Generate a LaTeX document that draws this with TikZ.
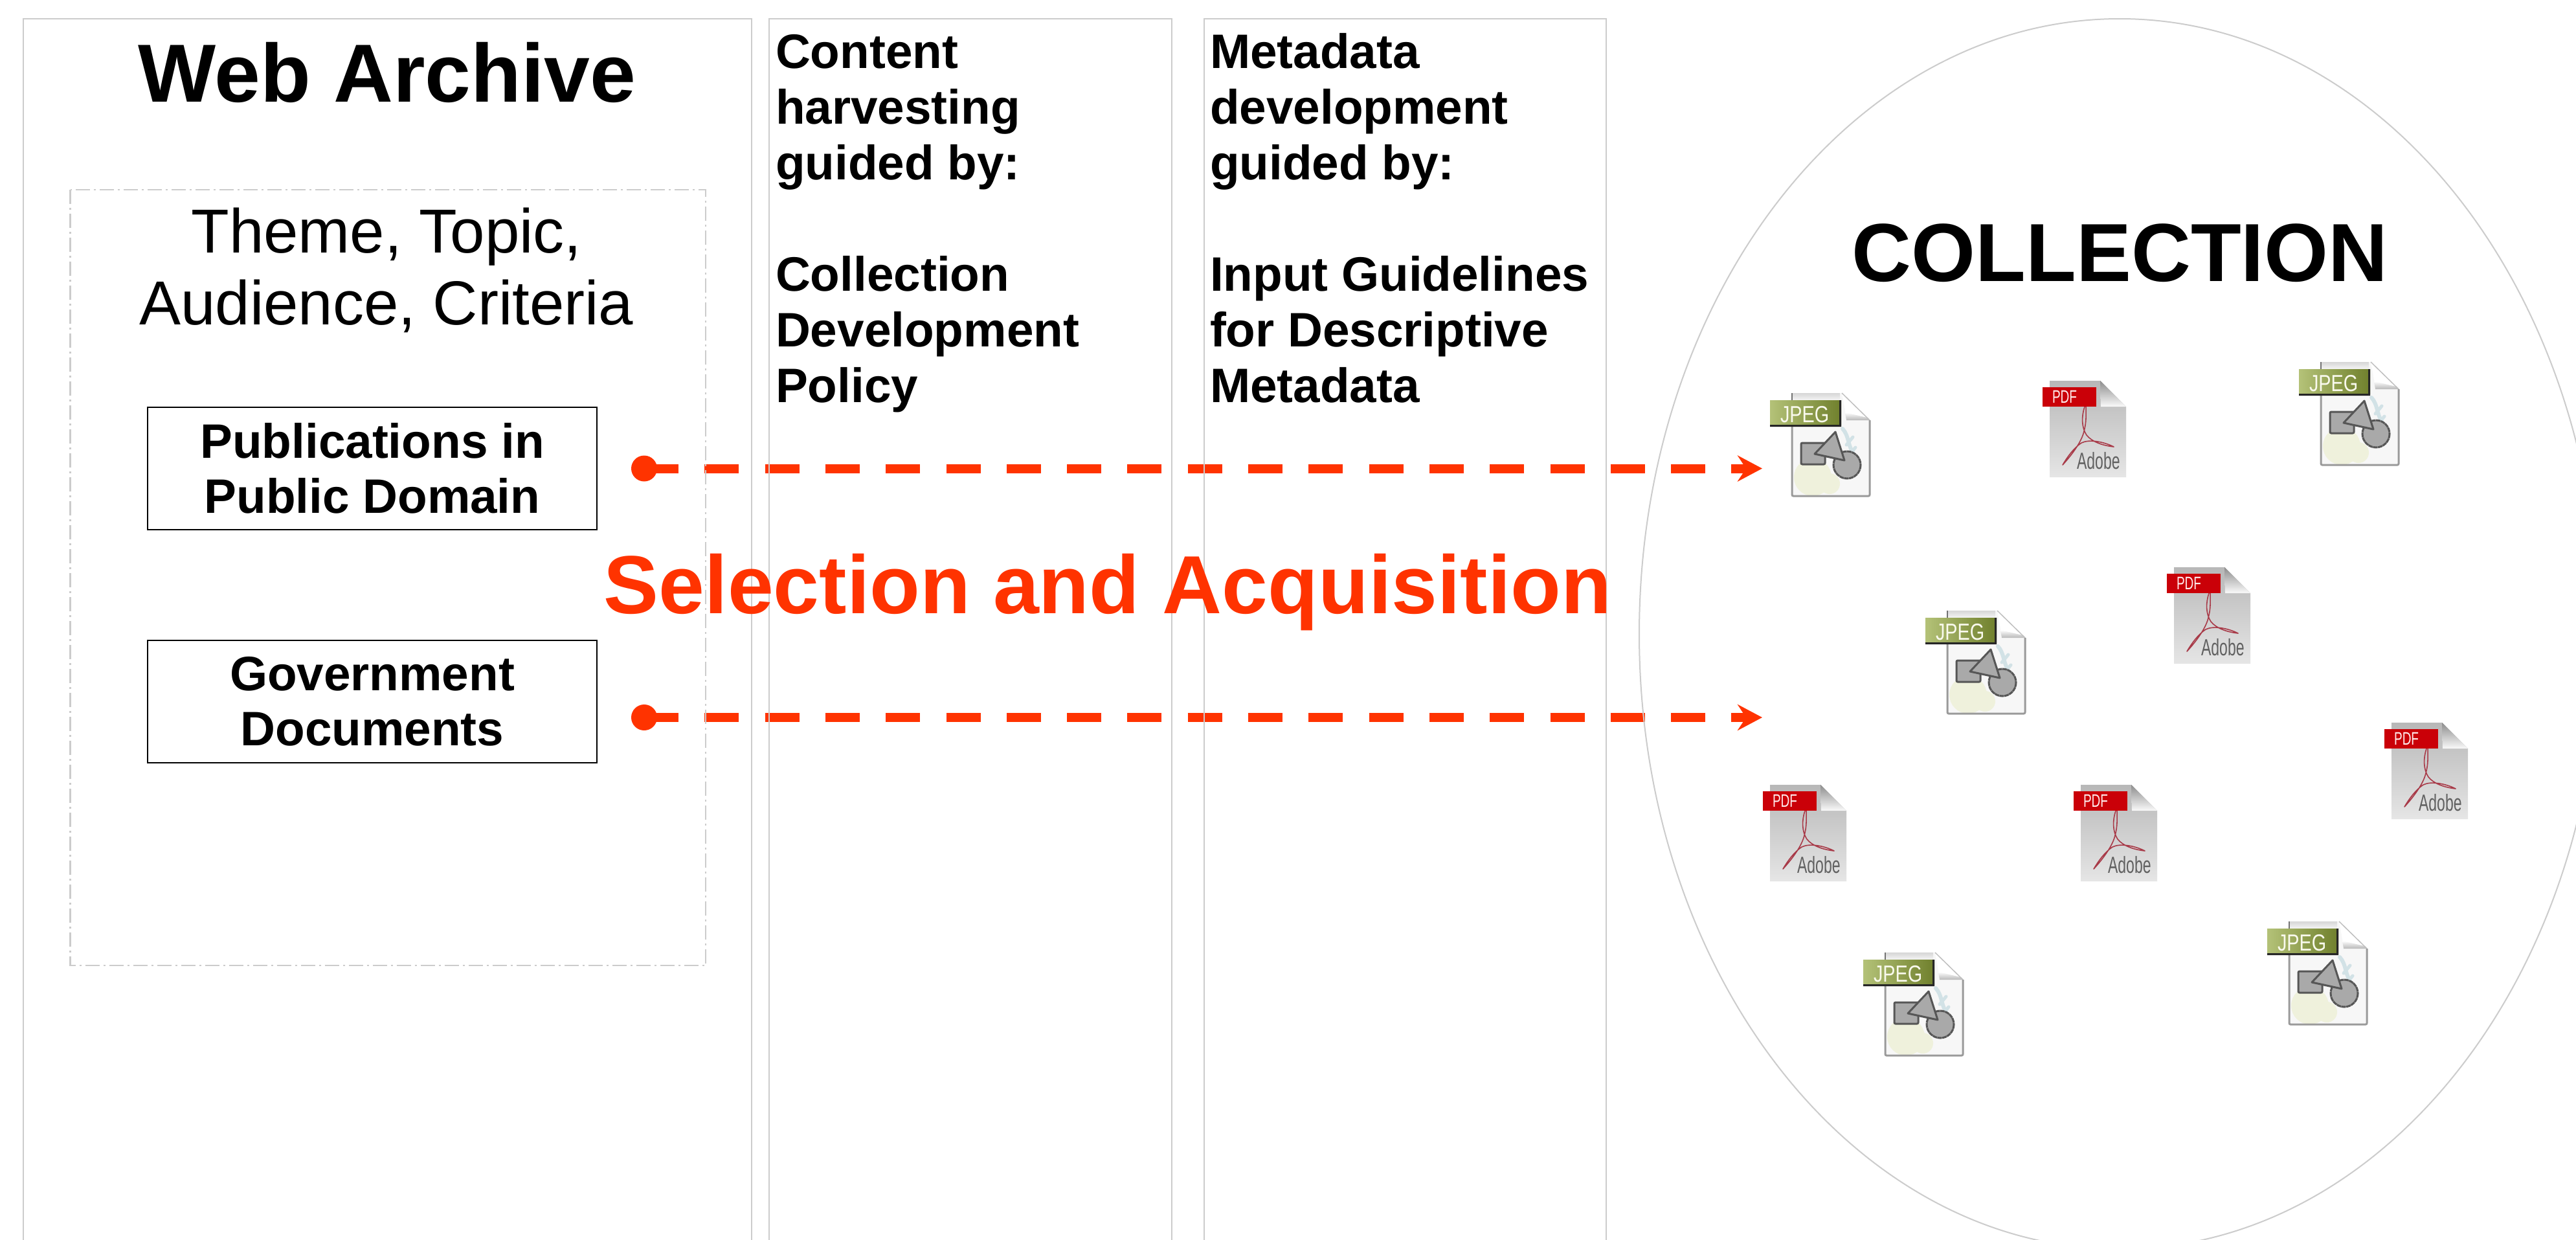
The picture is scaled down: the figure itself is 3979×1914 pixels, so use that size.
\documentclass[tikz,border=0pt]{standalone}
\usepackage{fontspec}
\setmainfont{Liberation Sans}
\usetikzlibrary{arrows.meta}
\definecolor{boxgray}{HTML}{CCCCCC}
\definecolor{redline}{HTML}{FF3300}
\definecolor{pdfred}{HTML}{CA0008}
\definecolor{swoosh}{HTML}{A83A48}
\definecolor{iconedge}{HTML}{9A9A9A}
\definecolor{shapefill}{HTML}{A9A9A9}
\definecolor{shapeedge}{HTML}{565656}
\definecolor{jpegleft}{HTML}{B4C278}
\definecolor{jpegright}{HTML}{6F7F2C}
\definecolor{blobcolor}{HTML}{EFF1DC}
\definecolor{streak}{HTML}{D2E2E6}
\tikzset{
  x=1pt,y=-1pt,
  column/.style={draw=boxgray,line width=2.2pt},
  dashframe/.style={draw=boxgray,line width=2.2pt,dash pattern=on 22pt off 6pt on 3pt off 6pt},
  ring/.style={draw=boxgray,line width=2pt},
  tx/.style={inner sep=0pt,outer sep=0pt,text=black},
  bigtitle/.style={tx,anchor=base,font=\fontsize{127.3}{130}\selectfont\bfseries},
  themetext/.style={tx,align=center,font=\fontsize{96}{111}\selectfont},
  coltext/.style={tx,align=left,font=\fontsize{74.7}{86}\selectfont\bfseries},
  srcbox/.style={draw=black,line width=2.6pt,fill=white,inner sep=0pt,align=center,
    minimum width=694pt,minimum height=189pt,font=\fontsize{74.7}{85}\selectfont\bfseries},
  startdot/.style={circle,fill=redline,inner sep=0pt,minimum size=40pt},
  flow/.style={draw=redline,line width=14pt,dash pattern=on 53pt off 40.3pt,
    -{Stealth[length=38pt,width=40pt,inset=13pt]}},
  pics/jpegicon/.style={code={
    \fill[black!3] (34,0)--(111,0)--(154,42)--(154,159)--(34,159)--cycle;
    \shade[top color=black!16,bottom color=black!3] (34,0) rectangle (108,12);
    \fill[blobcolor] (66,130) circle (29);
    \fill[blobcolor] (92,140) circle (16);
    \draw[streak,line width=6pt,line cap=round] (112,55)..controls (122,66) and (120,80)..(128,92);
    \draw[streak,line width=5pt,line cap=round] (128,68)--(118,80) (132,84)--(122,96);
    \fill[white] (111,0)--(154,42)--(118,38)--cycle;
    \shade[top color=white,bottom color=black!28] (116,30)--(150,38)--(154,42)--(118,42)--cycle;
    \draw[black!25,line width=1.5pt] (111,0)--(154,42);
    \draw[iconedge,line width=3pt,rounded corners=2pt] (154,42)--(154,159)--(34,159)--(34,40);
    \draw[black!55,line width=2pt] (34,0)--(34,12);
    \filldraw[fill=shapefill,draw=shapeedge,line width=3pt,dash pattern=on 7pt off 0.6pt] (119,111) circle (21);
    \filldraw[fill=shapefill,draw=shapeedge,line width=3pt,rounded corners=2pt] (48,77) rectangle (85,110);
    \filldraw[fill=shapefill,draw=shapeedge,line width=3pt,line join=round] (101,60)--(69,94)--(115,104)--cycle;
    \shade[left color=jpegleft,right color=jpegright] (0,11) rectangle (110,49);
    \fill[black!85] (0,49) rectangle (110,52) (107,11) rectangle (110,52);
    \node[tx,anchor=base west,xscale=.8,text=white!95!olive,font=\fontsize{36}{36}\selectfont] (lbl) at (16,45) {JPEG};
  }},
  pics/pdficon/.style={code={
    \shade[top color=black!28,middle color=black!5,bottom color=black!10] (11,0)--(89,0)--(129,40)--(129,149)--(11,149)--cycle;
    \shade[top color=black!45,bottom color=black!2] (89,0)--(129,40)--(90,40)--cycle;
    \draw[swoosh,line width=1.6pt,line join=round]
      (65,40)..controls (60,55) and (60,72)..(68,84)
      ..controls (76,94) and (92,100)..(110,102)
      ..controls (94,94) and (72,90)..(60,96)
      ..controls (48,104) and (38,118)..(31,130)
      ..controls (42,118) and (60,96)..(64,78)
      ..controls (68,64) and (67,52)..(67,40);
    \fill[pdfred] (0,10) rectangle (83,40);
    \node[tx,anchor=base west,xscale=.68,text=white!92!red,font=\fontsize{28}{28}\selectfont] (lbl) at (15,34) {PDF};
    \node[tx,anchor=base west,xscale=.64,text=black!62,font=\fontsize{36}{36}\selectfont] (brand) at (53,136) {Adobe};
  }},
}
\begin{document}
\begin{tikzpicture}
\useasboundingbox (0,0) rectangle (3979,1914);
\clip (0,0) rectangle (3979,1914);
\fill[white] (0,0) rectangle (3979,1914);

% file icons
\pic (j1) at (2734,607) {jpegicon};
\pic (j2) at (3551,559) {jpegicon};
\pic (j3) at (2974,943) {jpegicon};
\pic (j4) at (2878,1471) {jpegicon};
\pic (j5) at (3502,1423) {jpegicon};
\pic (p1) at (3155,588) {pdficon};
\pic (p2) at (3347,876) {pdficon};
\pic (p3) at (3683,1116) {pdficon};
\pic (p4) at (2723,1212) {pdficon};
\pic (p5) at (3203,1212) {pdficon};

% connectors
\node[startdot] (pubdot) at (995,723.5) {};
\node[startdot] (govdot) at (995,1108) {};
\coordinate (pubend) at (2722,723.5);
\coordinate (govend) at (2722,1108);
\draw[flow] (pubdot.center) -- (pubend);
\draw[flow] (govdot.center) -- (govend);

% frames
\draw[column] (36,1940) -- (36,29) -- (1161,29) -- (1161,1940);
\draw[column] (1188,1940) -- (1188,29) -- (1810,29) -- (1810,1940);
\draw[column] (1860,1940) -- (1860,29) -- (2481,29) -- (2481,1940);
\draw[dashframe] (108.5,293) rectangle (1090,1491);
\draw[ring] (3274,979) ellipse [x radius=742,y radius=950];

% text
\node[bigtitle] (webarchive) at (598,157) {Web Archive};
\node[themetext,anchor=base] (theme) at (597,501) {Theme, Topic,\\Audience, Criteria};
\node[srcbox] (pubbox) at (575,723.5) {Publications in\\Public Domain};
\node[srcbox] (govbox) at (575,1083.5) {Government\\Documents};
\node[coltext,anchor=base west] (content) at (1198,621) {Content\\harvesting\\guided by:\\[86pt]Collection\\Development\\Policy};
\node[coltext,anchor=base west] (metadata) at (1869,621) {Metadata\\development\\guided by:\\[86pt]Input Guidelines\\for Descriptive\\Metadata};
\node[bigtitle] (collection) at (3274.5,434) {COLLECTION};
\node[bigtitle,text=redline] (selection) at (1711,947) {Selection and Acquisition};
\end{tikzpicture}
\end{document}
